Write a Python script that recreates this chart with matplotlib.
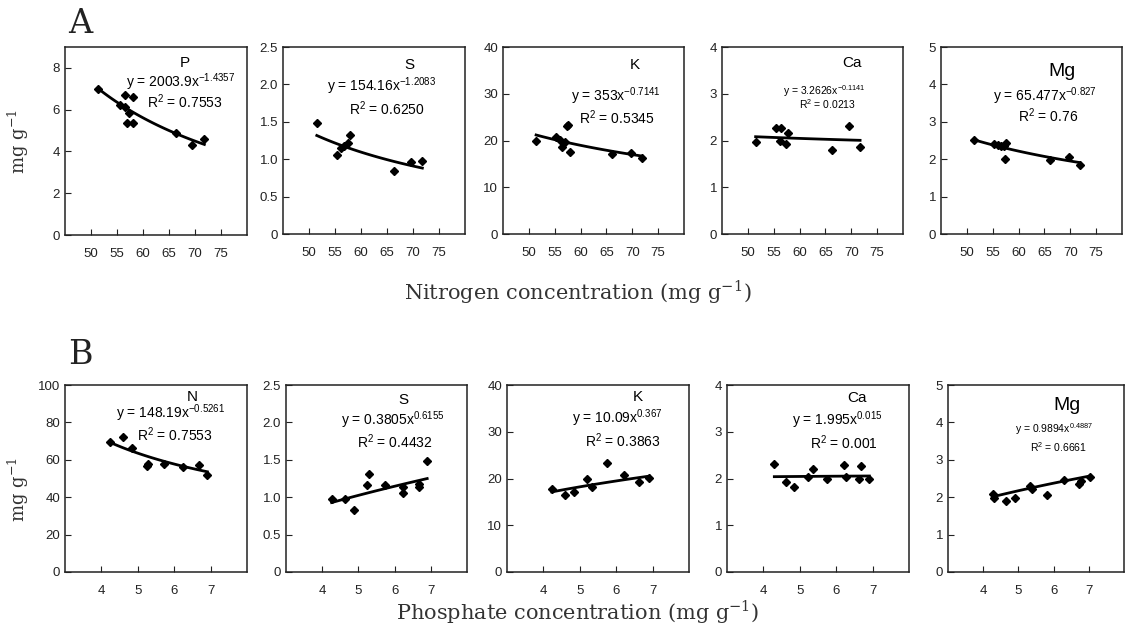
import matplotlib
matplotlib.use('Agg')

import numpy as np
import matplotlib.pyplot as plt

#========================================================
# data
# row A : x = nitrogen concentration (mg g-1)
nA_P = [51.4, 56.5, 58.0, 55.6, 56.6, 57.4, 56.9, 58.1, 66.3, 69.5, 71.8]
yA_P = [6.97, 6.70, 6.60, 6.20, 6.15, 5.83, 5.34, 5.34, 4.90, 4.30, 4.60]
nA_S = [51.5, 55.3, 56.1, 56.8, 57.5, 57.8, 66.3, 69.6, 71.8]
yA_S = [1.49, 1.06, 1.15, 1.17, 1.22, 1.32, 0.84, 0.96, 0.98]
nA_K = [51.4, 55.3, 56.0, 56.4, 56.9, 57.3, 57.5, 58.0, 66.0, 69.8, 71.9]
yA_K = [20.0, 20.7, 20.1, 18.7, 19.7, 23.2, 23.4, 17.5, 17.1, 17.3, 16.2]
nA_Ca = [51.5, 55.5, 56.5, 56.3, 57.4, 57.8, 66.2, 69.6, 71.7]
yA_Ca = [1.96, 2.26, 2.26, 2.00, 1.93, 2.17, 1.79, 2.30, 1.87]
nA_Mg = [51.4, 55.3, 56.0, 56.6, 57.2, 57.6, 57.4, 66.0, 69.7, 71.8]
yA_Mg = [2.51, 2.41, 2.38, 2.34, 2.35, 2.42, 2.00, 1.98, 2.05, 1.85]

# row B : x = phosphate concentration (mg g-1)
pB_N = [4.24, 4.60, 4.83, 5.24, 5.29, 5.73, 6.23, 6.68, 6.91]
yB_N = [69.5, 72.2, 66.5, 56.5, 58.0, 58.0, 56.0, 57.0, 51.7]
pB_S = [4.26, 4.63, 4.88, 5.23, 5.30, 5.73, 6.24, 6.24, 6.68, 6.68, 6.90]
yB_S = [0.97, 0.98, 0.83, 1.16, 1.31, 1.16, 1.14, 1.05, 1.18, 1.14, 1.49]
pB_K = [4.23, 4.59, 4.84, 5.19, 5.33, 5.74, 6.21, 6.63, 6.91]
yB_K = [17.7, 16.5, 17.2, 20.0, 18.1, 23.4, 20.7, 19.3, 20.2]
pB_Ca = [4.30, 4.62, 4.85, 5.23, 5.35, 5.74, 6.22, 6.27, 6.63, 6.68, 6.91]
yB_Ca = [2.31, 1.93, 1.82, 2.04, 2.20, 2.00, 2.29, 2.04, 2.00, 2.27, 1.99]
pB_Mg = [4.28, 4.32, 4.66, 4.91, 5.32, 5.40, 5.82, 6.29, 6.73, 6.77, 7.03]
yB_Mg = [2.09, 1.97, 1.89, 1.98, 2.31, 2.22, 2.07, 2.47, 2.36, 2.43, 2.55]

# power-law trend lines y = a * x^b as printed in each panel
elem_A = ['P', 'S', 'K', 'Ca', 'Mg']
coef_A = [2003.9, 154.16, 353, 3.2626, 65.477]
expo_A = [-1.4357, -1.2083, -0.7141, -0.1141, -0.827]
eq_A = ['2003.9', '154.16', '353', '3.2626', '65.477']
ex_A = ['-1.4357', '-1.2083', '-0.7141', '-0.1141', '-0.827']
r2_A = ['0.7553', '0.6250', '0.5345', '0.0213', '0.76']

elem_B = ['N', 'S', 'K', 'Ca', 'Mg']
coef_B = [148.19, 0.3805, 10.09, 1.995, 0.9894]
expo_B = [-0.5261, 0.6155, 0.367, 0.015, 0.4887]
eq_B = ['148.19', '0.3805', '10.09', '1.995', '0.9894']
ex_B = ['-0.5261', '0.6155', '0.367', '0.015', '0.4887']
r2_B = ['0.7553', '0.4432', '0.3863', '0.001', '0.6661']

ymax = [9, 2.5, 40, 4, 5]
ymax_B = [100, 2.5, 40, 4, 5]
yt_A = [[0, 2, 4, 6, 8], [0, 0.5, 1.0, 1.5, 2.0, 2.5], [0, 10, 20, 30, 40],
        [0, 1, 2, 3, 4], [0, 1, 2, 3, 4, 5]]
ytl_A = [['0', '2', '4', '6', '8'], ['0', '0.5', '1.0', '1.5', '2.0', '2.5'],
         ['0', '10', '20', '30', '40'], ['0', '1', '2', '3', '4'],
         ['0', '1', '2', '3', '4', '5']]
yt_B = [[0, 20, 40, 60, 80, 100]] + yt_A[1:]
ytl_B = [['0', '20', '40', '60', '80', '100']] + ytl_A[1:]
xt_A = [50, 55, 60, 65, 70, 75]
xt_B = [4, 5, 6, 7]
#========================================================

W, H = 1125, 626
plt.rcParams['font.family'] = ['Liberation Sans', 'DejaVu Sans']
plt.rcParams['mathtext.fontset'] = 'custom'
plt.rcParams['mathtext.rm'] = 'Liberation Sans'

fig = plt.figure(figsize=(W / 100, H / 100), dpi=100)


def fx(px):
    return px / W


def fy(py):
    return 1 - py / H


def add_ax(left, top, width, height):
    return fig.add_axes([fx(left), fy(top + height), width / W, height / H])


# pixel boxes (left, top, width, height)
boxes_A = [(65, 47, 182, 188), (283, 47, 182, 187), (503, 47, 181, 187),
           (722, 47, 181, 187), (941, 47, 181, 187)]
boxes_B = [(65, 385, 182, 187), (286, 385, 181, 187), (507, 385, 182, 187),
           (727, 385, 182, 187), (948, 385, 176, 187)]

# text positions: element label centre, equation left, R2 left (pixels)
txt_A = [((185, 63), (126, 82), (147, 102)),
         ((409, 65), (327, 86), (349, 109)),
         ((635, 65), (571, 96), (579, 118)),
         ((852, 63), (783, 91), (799, 104)),
         ((1062, 71), (993, 96), (1018, 116))]
txt_B = [((192, 397), (116, 413), (137, 435)),
         ((403, 400), (341, 420), (357, 442)),
         ((638, 397), (572, 418), (585, 441)),
         ((857, 398), (792, 420), (810, 443)),
         ((1067, 405), (1015, 429), (1030, 447))]

xs_A = [nA_P, nA_S, nA_K, nA_Ca, nA_Mg]
ys_A = [yA_P, yA_S, yA_K, yA_Ca, yA_Mg]
xs_B = [pB_N, pB_S, pB_K, pB_Ca, pB_Mg]
ys_B = [yB_N, yB_S, yB_K, yB_Ca, yB_Mg]


def panel(box, x, y, a, b, ylim, yt, ytl, xlim, xt, elem, eq, ex, r2, tpos,
          small=False):
    ax = add_ax(*box)
    ax.plot(x, y, ls='none', marker='D', ms=4.5, color='k')
    xx = np.linspace(min(x), max(x), 60)
    ax.plot(xx, a * xx ** b, color='k', lw=2)
    ax.set_xlim(xlim)
    ax.set_ylim(0, ylim)
    ax.set_xticks(xt)
    ax.set_xticklabels([str(t) for t in xt])
    ax.set_yticks(yt)
    ax.set_yticklabels(ytl)
    ax.tick_params(direction='in', length=4, labelsize=9.5, colors='#222222')
    ax.tick_params(axis='x', pad=9)
    for s in ax.spines.values():
        s.set_linewidth(1.1)
        s.set_color('#222222')
    fs = 7.5 if small else 10
    efs = 14 if elem == 'Mg' else 11
    (ex_, ey_), (qx, qy), (rx, ry) = tpos
    fig.text(fx(ex_), fy(ey_), elem, ha='center', va='center', fontsize=efs)
    fig.text(fx(qx), fy(qy), 'y = ' + eq + 'x$^{\\mathregular{' + ex + '}}$',
             ha='left', va='center', fontsize=fs)
    fig.text(fx(rx), fy(ry), 'R$^{\\mathregular{2}}$ = ' + r2,
             ha='left', va='center', fontsize=fs)
    return ax


for i in range(5):
    panel(boxes_A[i], xs_A[i], ys_A[i], coef_A[i], expo_A[i], ymax[i],
          yt_A[i], ytl_A[i], (45, 80), xt_A, elem_A[i], eq_A[i], ex_A[i],
          r2_A[i], txt_A[i], small=(i == 3))
    panel(boxes_B[i], xs_B[i], ys_B[i], coef_B[i], expo_B[i], ymax_B[i],
          yt_B[i], ytl_B[i], (3, 8), xt_B, elem_B[i], eq_B[i], ex_B[i],
          r2_B[i], txt_B[i], small=(i == 4))

serif = ['DejaVu Serif']
fig.text(fx(68), fy(33), 'A', fontsize=24, family=serif, ha='left',
         va='baseline', color='#222222')
fig.text(fx(68), fy(364), 'B', fontsize=24, family=serif, ha='left',
         va='baseline', color='#222222')
fig.text(fx(18), fy(142), 'mg g$^{\\mathregular{-1}}$', rotation=90,
         fontsize=13, family=serif, ha='center', va='center', color='#333333')
fig.text(fx(18), fy(490), 'mg g$^{\\mathregular{-1}}$', rotation=90,
         fontsize=13, family=serif, ha='center', va='center', color='#333333')
fig.text(fx(578), fy(292), 'Nitrogen concentration (mg g$^{\\mathregular{-1}}$)',
         fontsize=15, family=serif, ha='center', va='center', color='#333333')
fig.text(fx(578), fy(612), 'Phosphate concentration (mg g$^{\\mathregular{-1}}$)',
         fontsize=15, family=serif, ha='center', va='center', color='#333333')

fig.savefig('out.png', dpi=100)
